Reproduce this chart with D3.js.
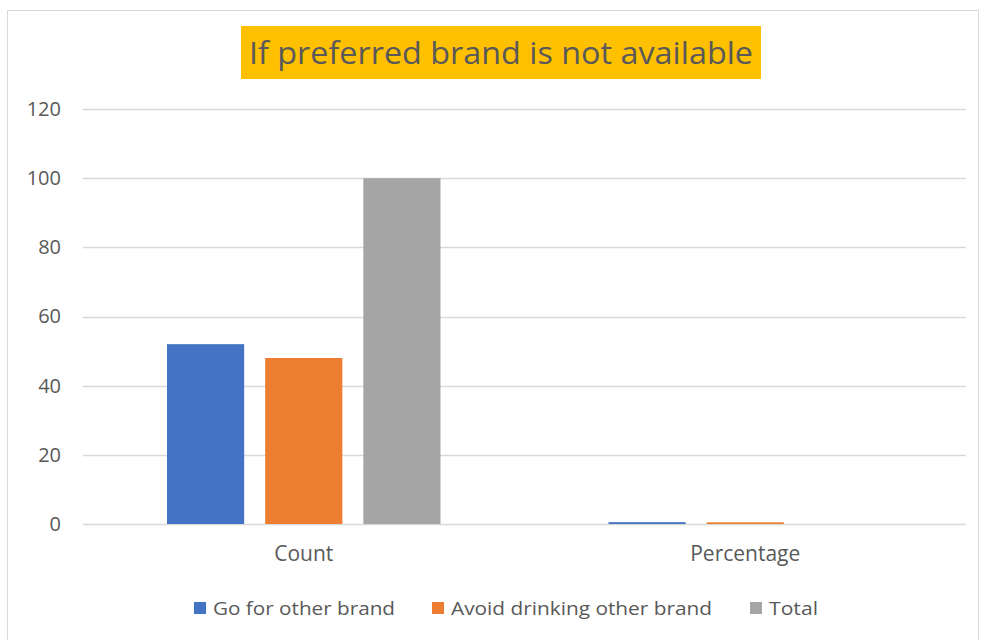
<!DOCTYPE html>
<html>
<head>
<meta charset="utf-8">
<script src="https://cdn.jsdelivr.net/npm/d3@7"></script>
<style>
  html, body { margin: 0; padding: 0; background: #fff; }
  svg { display: block; }
  text { font-family: "Open Sans", "Noto Sans", sans-serif; fill: #595959; }
</style>
</head>
<body>
<svg id="chart" width="983" height="640"></svg>
<script>
// Categories on the x axis
const categories = ["Count", "Percentage"];
// Series names shown in the legend
const seriesNames = ["Go for other brand", "Avoid drinking other brand", "Total"];
// Values per series, one entry per category
const goForOther = [52, 0.52];
const avoidDrinking = [48, 0.48];
const total = [100, 0];
// Y axis ticks
const yTicks = [0, 20, 40, 60, 80, 100, 120];
const colors = ["#4472c4", "#ed7d31", "#a5a5a5"];
const titleText = "If preferred brand is not available";

const seriesValues = [goForOther, avoidDrinking, total];
const FONT = '"Open Sans", "Noto Sans", sans-serif';

const svg = d3.select("#chart");
const W = 983, H = 640;

// outer chart frame
svg.append("rect")
  .attr("x", 7.5).attr("y", 10.5)
  .attr("width", W - 12).attr("height", H - 8)
  .attr("fill", "#fff").attr("stroke", "#d9d9d9").attr("stroke-width", 1);

const plot = { left: 83, right: 966, top: 109, bottom: 524 };

const x0 = d3.scaleBand().domain(categories)
  .range([plot.left, plot.right]).paddingInner(0).paddingOuter(0);
const x1 = d3.scaleBand().domain(seriesNames)
  .range([84, x0.bandwidth() - 84]).paddingInner(0.214).paddingOuter(0);
const y = d3.scaleLinear().domain([0, 120]).range([plot.bottom, plot.top]);

// gridlines
svg.append("g")
  .selectAll("line").data(yTicks).join("line")
  .attr("x1", plot.left).attr("x2", plot.right)
  .attr("y1", d => Math.round(y(d)) + 0.5).attr("y2", d => Math.round(y(d)) + 0.5)
  .attr("stroke", "#d9d9d9").attr("stroke-width", 1.3);

// y axis labels
const yAxis = d3.axisLeft(y).tickValues(yTicks).tickSize(0).tickPadding(0);
const gy = svg.append("g").attr("transform", `translate(61,0)`).call(yAxis);
gy.attr("font-size", null).attr("font-family", null);
gy.select(".domain").remove();
gy.selectAll("text").style("font-size", "20px").style("fill", "#595959")
  .style("font-family", FONT);

// bars
const groups = svg.append("g").selectAll("g").data(categories).join("g")
  .attr("transform", d => `translate(${x0(d)},0)`);
groups.selectAll("rect")
  .data((c, ci) => seriesNames.map((s, si) => ({ s, si, v: seriesValues[si][ci] })))
  .join("rect")
  .attr("x", d => x1(d.s))
  .attr("width", x1.bandwidth())
  .attr("y", d => y(d.v))
  .attr("height", d => y(0) - y(d.v))
  .attr("fill", d => colors[d.si]);

// category labels
const xAxis = d3.axisBottom(x0).tickSize(0).tickPadding(0);
const gx = svg.append("g").attr("transform", `translate(0,${plot.bottom + 22})`).call(xAxis);
gx.attr("font-size", null).attr("font-family", null);
gx.select(".domain").remove();
gx.selectAll("text").style("font-size", "21px").style("fill", "#595959")
  .style("font-family", FONT);

// title with highlighted background
svg.append("rect")
  .attr("x", 241).attr("y", 26).attr("width", 520).attr("height", 53)
  .attr("fill", "#ffc000");
svg.append("text")
  .attr("x", 501).attr("y", 64)
  .attr("text-anchor", "middle")
  .style("font-size", "31px")
  .attr("textLength", 504).attr("lengthAdjust", "spacingAndGlyphs")
  .text(titleText);

// legend
const legendX = [194, 432, 750];
const legendTextW = [182, 261, 49];
const lg = svg.append("g").selectAll("g").data(seriesNames).join("g")
  .attr("transform", (d, i) => `translate(${legendX[i]},602)`);
lg.append("rect").attr("width", 12).attr("height", 12).attr("fill", (d, i) => colors[i]);
lg.append("text").attr("x", 19).attr("y", 13).style("font-size", "19px")
  .attr("textLength", (d, i) => legendTextW[i]).attr("lengthAdjust", "spacingAndGlyphs")
  .text(d => d);
</script>
</body>
</html>
